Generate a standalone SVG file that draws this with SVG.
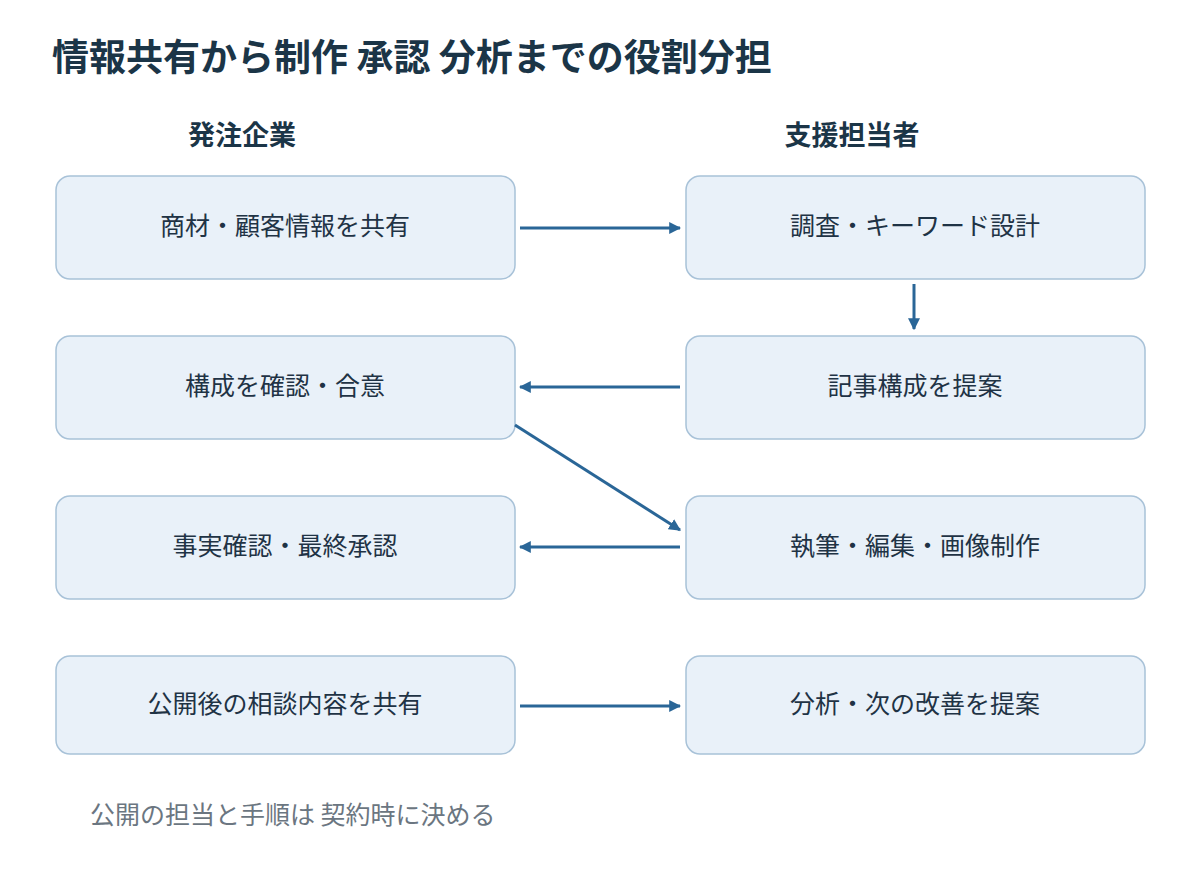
<svg xmlns="http://www.w3.org/2000/svg" width="1200" height="870" viewBox="0 0 1200 870">
<defs>
<style>
text{font-family:"Noto Sans CJK JP","Noto Sans",sans-serif;}
.box{fill:#e9f1f9;stroke:#a8c2d8;stroke-width:1.5;}
.lbl{font-size:25px;fill:#1f3345;text-anchor:middle;}
.hd{font-size:27px;font-weight:bold;fill:#1b3547;text-anchor:middle;}
.ar{stroke:#2a6697;stroke-width:3;fill:none;marker-end:url(#ah);}
</style>
<marker id="ah" viewBox="0 0 10 10" refX="9" refY="5" markerWidth="4" markerHeight="4" orient="auto"><path d="M0,0L10,5L0,10z" fill="#2a6697"/></marker>
</defs>
<rect width="1200" height="870" fill="#fff"/>
<text x="52" y="71" font-size="37" font-weight="bold" fill="#1b3547">情報共有から制作 承認 分析までの役割分担</text>
<text class="hd" x="242" y="145">発注企業</text>
<text class="hd" x="852" y="145">支援担当者</text>
<g id="n1"><rect class="box" x="56" y="176" width="459" height="103" rx="14"/><text class="lbl" x="285" y="235">商材・顧客情報を共有</text></g>
<g id="n2"><rect class="box" x="686" y="176" width="459" height="103" rx="14"/><text class="lbl" x="915" y="235">調査・キーワード設計</text></g>
<g id="n3"><rect class="box" x="56" y="336" width="459" height="103" rx="14"/><text class="lbl" x="285" y="395">構成を確認・合意</text></g>
<g id="n4"><rect class="box" x="686" y="336" width="459" height="103" rx="14"/><text class="lbl" x="915" y="395">記事構成を提案</text></g>
<g id="n5"><rect class="box" x="56" y="496" width="459" height="103" rx="14"/><text class="lbl" x="285" y="555">事実確認・最終承認</text></g>
<g id="n6"><rect class="box" x="686" y="496" width="459" height="103" rx="14"/><text class="lbl" x="915" y="555">執筆・編集・画像制作</text></g>
<g id="n7"><rect class="box" x="56" y="656" width="459" height="98" rx="14"/><text class="lbl" x="285" y="713">公開後の相談内容を共有</text></g>
<g id="n8"><rect class="box" x="686" y="656" width="459" height="98" rx="14"/><text class="lbl" x="915" y="713">分析・次の改善を提案</text></g>
<g id="connectors">
<line class="ar" x1="520" y1="228" x2="680" y2="228"/>
<line class="ar" x1="914" y1="284" x2="914" y2="329"/>
<line class="ar" x1="680" y1="387" x2="520" y2="387"/>
<line class="ar" x1="515" y1="425" x2="680" y2="530"/>
<line class="ar" x1="680" y1="547" x2="520" y2="547"/>
<line class="ar" x1="520" y1="706" x2="680" y2="706"/>
</g>
<text x="90" y="824" font-size="25" fill="#6b7681">公開の担当と手順は 契約時に決める</text>
</svg>
